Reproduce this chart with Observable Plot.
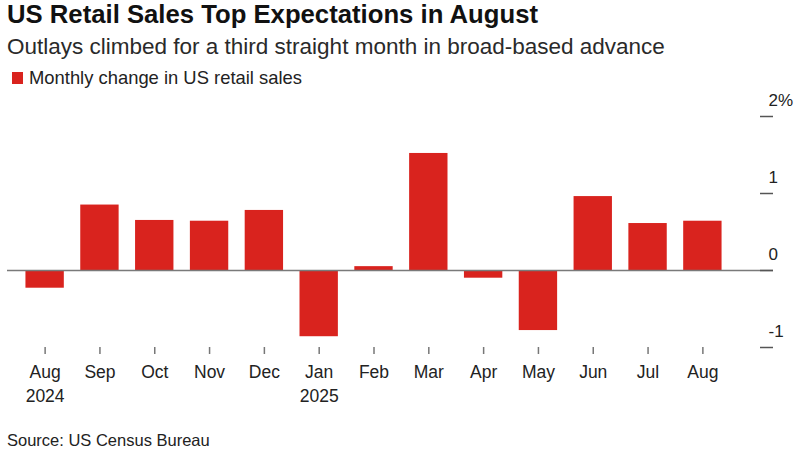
<!DOCTYPE html>
<html>
<head>
<meta charset="utf-8">
<script src="https://cdn.jsdelivr.net/npm/d3@7"></script>
<script src="https://cdn.jsdelivr.net/npm/@observablehq/plot@0.6"></script>
<style>
  html, body { margin: 0; padding: 0; background: #fff; }
  body { width: 800px; height: 450px; overflow: hidden; position: relative; font-family: "Liberation Sans", Arial, sans-serif; color: #111; }
  #title { position: absolute; left: 7px; top: 0px; font-size: 25.7px; font-weight: bold; color: #111; white-space: nowrap; }
  #subtitle { position: absolute; left: 7px; top: 34px; font-size: 22.5px; color: #2a2a2a; white-space: nowrap; }
  #legend { position: absolute; left: 12px; top: 67px; font-size: 18.4px; color: #222; white-space: nowrap; display: flex; align-items: center; }
  #legend .sw { width: 11px; height: 12px; background: #d9231e; margin-right: 6px; display: inline-block; }
  #chart { position: absolute; left: 0; top: 90px; }
  #source { position: absolute; left: 7px; top: 431px; font-size: 16.5px; color: #222; white-space: nowrap; }
</style>
</head>
<body>
<div id="title">US Retail Sales Top Expectations in August</div>
<div id="subtitle">Outlays climbed for a third straight month in broad-based advance</div>
<div id="legend"><span class="sw"></span><span>Monthly change in US retail sales</span></div>
<div id="chart"></div>
<div id="source">Source: US Census Bureau</div>
<script>
const periods = ["2024-08","2024-09","2024-10","2024-11","2024-12","2025-01","2025-02","2025-03","2025-04","2025-05","2025-06","2025-07","2025-08"];
const tickLabels = ["Aug\n2024","Sep","Oct","Nov","Dec","Jan\n2025","Feb","Mar","Apr","May","Jun","Jul","Aug"];
const changes = [-0.23, 0.85, 0.65, 0.64, 0.78, -0.86, 0.05, 1.52, -0.10, -0.78, 0.96, 0.61, 0.64];
const yTicks = [-1, 0, 1, 2];
const yTickLabels = ["-1", "0", "1", "2%"];

const data = periods.map((p, i) => ({ period: p, change: changes[i] }));

const chart = Plot.plot({
  width: 800,
  height: 330,
  marginLeft: 9,
  marginRight: 62,
  marginTop: 26,
  marginBottom: 73,
  style: { fontFamily: "Liberation Sans, Arial, sans-serif", fontSize: "17px", color: "#222", background: "#fff" },
  x: { domain: periods, padding: 0.3, round: false, label: null },
  y: { domain: [-1, 2], label: null },
  marks: [
    Plot.barY(data, { x: "period", y: "change", fill: "#d9231e" }),
    Plot.ruleY([0], { stroke: "#7a7a7a", strokeWidth: 1.5, insetLeft: -2, insetRight: -35 }),
    Plot.axisX({
      tickSize: 7, tickPadding: 6, stroke: "#777", strokeWidth: 1.5,
      tickFormat: d => tickLabels[periods.indexOf(d)],
      lineHeight: 1.4, fill: "#222", fontSize: 17.5
    }),
    Plot.ruleY(yTicks, { stroke: "#555", strokeWidth: 1.5, insetLeft: 751, insetRight: -35 }),
    Plot.axisY({
      anchor: "right", ticks: yTicks, tickSize: 0, dx: 21, dy: -16, textAnchor: "start",
      tickFormat: d => yTickLabels[yTicks.indexOf(d)], fill: "#222", fontSize: 17
    })
  ]
});
document.getElementById("chart").appendChild(chart);
</script>
</body>
</html>
